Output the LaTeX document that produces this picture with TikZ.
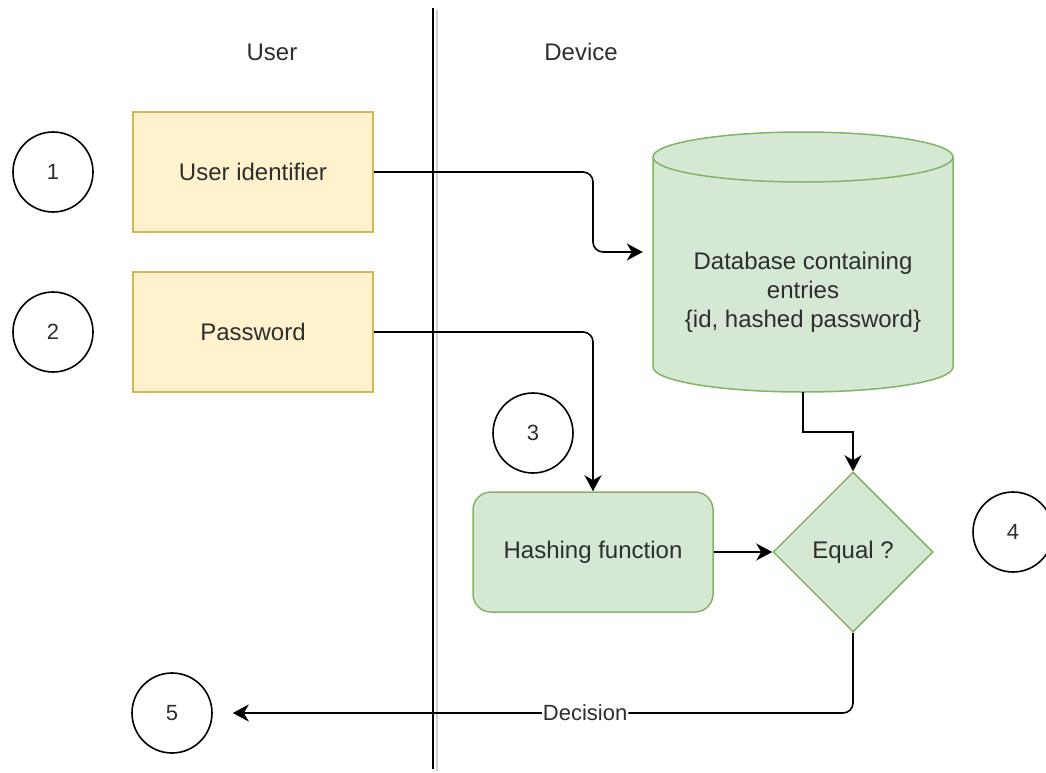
\documentclass[tikz,border=0pt]{standalone}
\usepackage{fontspec}
\setmainfont{Liberation Sans}
\usetikzlibrary{arrows.meta,shapes.geometric}
\definecolor{inFill}{HTML}{FFF2CC}
\definecolor{inLine}{HTML}{D6B656}
\definecolor{devFill}{HTML}{D5E8D4}
\definecolor{devLine}{HTML}{82B366}
\definecolor{ink}{HTML}{2E2E2E}
\tikzset{
  marker/.style={circle, draw=black, line width=1.6pt, minimum size=80pt,
    inner sep=0pt, text=ink, font=\fontsize{22}{26}\selectfont},
  inbox/.style={rectangle, draw=inLine, fill=inFill, line width=1.5pt,
    minimum width=240pt, minimum height=120pt, text=ink,
    font=\fontsize{24}{29}\selectfont},
  procbox/.style={rectangle, rounded corners=18pt, draw=devLine, fill=devFill,
    line width=1.5pt, minimum width=240pt, minimum height=120pt, text=ink,
    font=\fontsize{24}{29}\selectfont},
  decide/.style={diamond, aspect=1, draw=devLine, fill=devFill, line width=1.5pt,
    minimum width=160pt, minimum height=160pt, inner sep=0pt, text=ink,
    font=\fontsize{24}{29}\selectfont},
  dbshape/.style={draw=devLine, fill=devFill, line width=1.5pt},
  dbtext/.style={rectangle, minimum width=300pt, minimum height=210pt,
    inner sep=0pt, align=center, text=ink, font=\fontsize{24}{29}\selectfont},
  lane/.style={text=ink, font=\fontsize{24}{29}\selectfont},
  edge/.style={draw=black, line width=1.6pt,
    -{Stealth[length=16pt, width=17pt, inset=5pt]}},
  edgelabel/.style={fill=white, inner sep=1pt, text=ink,
    font=\fontsize{22}{26}\selectfont},
}
\begin{document}
\begin{tikzpicture}[x=1pt, y=-1pt]
\clip (0,0) rectangle (1046,773);
\fill[white] (0,0) rectangle (1046,773);

% swim-lane separator with its soft shadow
\draw[line width=1.6pt, black!18] (437,10) -- (437,771);
\draw[line width=1.6pt, black] (433,8) -- (433,769);

% lane titles
\node[lane] (userlane) at (272,52) {User};
\node[lane] (devlane) at (581,52) {Device};

% step markers
\node[marker] (c1) at (53,172) {1};
\node[marker] (c2) at (53,332) {2};
\node[marker] (c3) at (533,433) {3};
\node[marker] (c4) at (1013,532) {4};
\node[marker] (c5) at (172,713) {5};

% user inputs
\node[inbox] (uid) at (253,172) {User identifier};
\node[inbox] (pw) at (253,332) {Password};

% credential store (cylinder)
\path[dbshape] (653,157) -- (653,367)
  arc[start angle=180, end angle=0, x radius=150, y radius=25]
  -- (953,157)
  arc[start angle=0, end angle=-180, x radius=150, y radius=25] -- cycle;
\draw[devLine, line width=1.5pt] (653,157)
  arc[start angle=180, end angle=0, x radius=150, y radius=25];
\node[dbtext] (db) at (803,287) {};
\node[dbtext, minimum height=0pt] (dblabel) at (803,292)
  {Database containing\\entries\\\{id, hashed password\}};

% processing
\node[procbox] (hash) at (593,552) {Hashing function};
\node[decide] (eq) at (853,552) {Equal ?};

% connectors
\coordinate (j1) at (593,252);
\draw[edge, rounded corners=10pt] (uid.east) -| (j1)
  -- ([xshift=-10pt]j1 -| db.west);
\draw[edge, rounded corners=10pt] (pw.east) -| (hash.north);
\coordinate (j2) at (803,432);
\draw[edge] (db.south) -- (j2) -| (eq.north);
\draw[edge] (hash.east) -- (eq.west);
\draw[edge, rounded corners=10pt] (eq.south) |-
  node[edgelabel, pos=0.716] {Decision} ([xshift=20pt]c5.east);
\end{tikzpicture}
\end{document}
